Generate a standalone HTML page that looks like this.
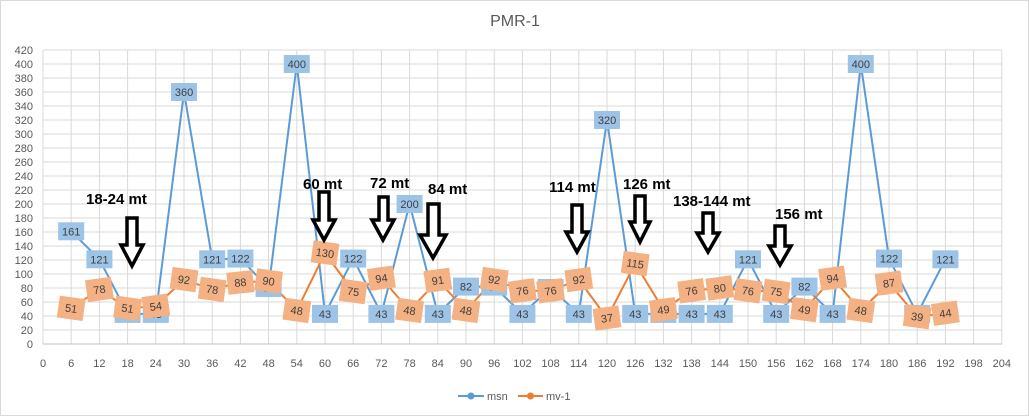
<!DOCTYPE html>
<html><head><meta charset="utf-8"><style>
html,body{margin:0;padding:0;background:#fff;}
svg{display:block;font-family:"Liberation Sans",sans-serif;}
.g line{stroke:#d9d9d9;stroke-width:1}
.yl{font-size:11px;fill:#595959;text-anchor:end}
.xl{font-size:11px;fill:#595959;text-anchor:middle}
.bl rect{fill:#9dc3e6}
.bl text,.ol text{font-size:11px;fill:#404040;text-anchor:middle}
.ol rect{fill:#f4b183}
.ar{fill:#fff;stroke:#000;stroke-width:3.5}
.an{font-size:15px;font-weight:bold;fill:#000}
</style></head><body>
<svg width="1029" height="416" viewBox="0 0 1029 416">
<rect x="0.5" y="0.5" width="1028" height="415" fill="#fff" stroke="#d9d9d9"/>
<text x="515" y="26" font-size="16" fill="#595959" text-anchor="middle">PMR-1</text>
<g class="g">
<line x1="43" y1="50" x2="1002" y2="50"/><line x1="43" y1="64" x2="1002" y2="64"/><line x1="43" y1="78" x2="1002" y2="78"/><line x1="43" y1="92" x2="1002" y2="92"/><line x1="43" y1="106" x2="1002" y2="106"/><line x1="43" y1="120" x2="1002" y2="120"/><line x1="43" y1="134" x2="1002" y2="134"/><line x1="43" y1="148" x2="1002" y2="148"/><line x1="43" y1="162" x2="1002" y2="162"/><line x1="43" y1="176" x2="1002" y2="176"/><line x1="43" y1="190" x2="1002" y2="190"/><line x1="43" y1="204" x2="1002" y2="204"/><line x1="43" y1="218" x2="1002" y2="218"/><line x1="43" y1="232" x2="1002" y2="232"/><line x1="43" y1="246" x2="1002" y2="246"/><line x1="43" y1="260" x2="1002" y2="260"/><line x1="43" y1="274" x2="1002" y2="274"/><line x1="43" y1="288" x2="1002" y2="288"/><line x1="43" y1="302" x2="1002" y2="302"/><line x1="43" y1="316" x2="1002" y2="316"/><line x1="43" y1="330" x2="1002" y2="330"/>
<line x1="43" y1="50" x2="43" y2="344"/><line x1="71.2" y1="50" x2="71.2" y2="344"/><line x1="99.4" y1="50" x2="99.4" y2="344"/><line x1="127.6" y1="50" x2="127.6" y2="344"/><line x1="155.8" y1="50" x2="155.8" y2="344"/><line x1="184" y1="50" x2="184" y2="344"/><line x1="212.2" y1="50" x2="212.2" y2="344"/><line x1="240.4" y1="50" x2="240.4" y2="344"/><line x1="268.6" y1="50" x2="268.6" y2="344"/><line x1="296.8" y1="50" x2="296.8" y2="344"/><line x1="325" y1="50" x2="325" y2="344"/><line x1="353.2" y1="50" x2="353.2" y2="344"/><line x1="381.4" y1="50" x2="381.4" y2="344"/><line x1="409.6" y1="50" x2="409.6" y2="344"/><line x1="437.8" y1="50" x2="437.8" y2="344"/><line x1="466" y1="50" x2="466" y2="344"/><line x1="494.2" y1="50" x2="494.2" y2="344"/><line x1="522.4" y1="50" x2="522.4" y2="344"/><line x1="550.6" y1="50" x2="550.6" y2="344"/><line x1="578.8" y1="50" x2="578.8" y2="344"/><line x1="607" y1="50" x2="607" y2="344"/><line x1="635.2" y1="50" x2="635.2" y2="344"/><line x1="663.4" y1="50" x2="663.4" y2="344"/><line x1="691.6" y1="50" x2="691.6" y2="344"/><line x1="719.8" y1="50" x2="719.8" y2="344"/><line x1="748" y1="50" x2="748" y2="344"/><line x1="776.2" y1="50" x2="776.2" y2="344"/><line x1="804.4" y1="50" x2="804.4" y2="344"/><line x1="832.6" y1="50" x2="832.6" y2="344"/><line x1="860.8" y1="50" x2="860.8" y2="344"/><line x1="889" y1="50" x2="889" y2="344"/><line x1="917.2" y1="50" x2="917.2" y2="344"/><line x1="945.4" y1="50" x2="945.4" y2="344"/><line x1="973.6" y1="50" x2="973.6" y2="344"/><line x1="1001.8" y1="50" x2="1001.8" y2="344"/>
</g>
<line x1="43" y1="344" x2="1002" y2="344" stroke="#bfbfbf"/>
<g class="yl">
<text x="33" y="54">420</text><text x="33" y="68">400</text><text x="33" y="82">380</text><text x="33" y="96">360</text><text x="33" y="110">340</text><text x="33" y="124">320</text><text x="33" y="138">300</text><text x="33" y="152">280</text><text x="33" y="166">260</text><text x="33" y="180">240</text><text x="33" y="194">220</text><text x="33" y="208">200</text><text x="33" y="222">180</text><text x="33" y="236">160</text><text x="33" y="250">140</text><text x="33" y="264">120</text><text x="33" y="278">100</text><text x="33" y="292">80</text><text x="33" y="306">60</text><text x="33" y="320">40</text><text x="33" y="334">20</text><text x="33" y="348">0</text>
</g>
<g class="xl">
<text x="43" y="367">0</text><text x="71.2" y="367">6</text><text x="99.4" y="367">12</text><text x="127.6" y="367">18</text><text x="155.8" y="367">24</text><text x="184" y="367">30</text><text x="212.2" y="367">36</text><text x="240.4" y="367">42</text><text x="268.6" y="367">48</text><text x="296.8" y="367">54</text><text x="325" y="367">60</text><text x="353.2" y="367">66</text><text x="381.4" y="367">72</text><text x="409.6" y="367">78</text><text x="437.8" y="367">84</text><text x="466" y="367">90</text><text x="494.2" y="367">96</text><text x="522.4" y="367">102</text><text x="550.6" y="367">108</text><text x="578.8" y="367">114</text><text x="607" y="367">120</text><text x="635.2" y="367">126</text><text x="663.4" y="367">132</text><text x="691.6" y="367">138</text><text x="719.8" y="367">144</text><text x="748" y="367">150</text><text x="776.2" y="367">156</text><text x="804.4" y="367">162</text><text x="832.6" y="367">168</text><text x="860.8" y="367">174</text><text x="889" y="367">180</text><text x="917.2" y="367">186</text><text x="945.4" y="367">192</text><text x="973.6" y="367">198</text><text x="1001.8" y="367">204</text>
</g>
<polyline fill="none" stroke="#5b9bd5" stroke-width="2" points="71.2,231.3 99.4,259.3 127.6,313.9 155.8,313.9 184,92 212.2,259.3 240.4,258.6 268.6,288 296.8,64 325,313.9 353.2,258.6 381.4,313.9 409.6,204 437.8,313.9 466,286.6 494.2,286.6 522.4,313.9 550.6,288 578.8,313.9 607,120 635.2,313.9 663.4,313.9 691.6,313.9 719.8,313.9 748,259.3 776.2,313.9 804.4,286.6 832.6,313.9 860.8,64 889,258.6 917.2,313.9 945.4,259.3"/>
<polyline fill="none" stroke="#ed7d31" stroke-width="2" points="71.2,308.3 99.4,289.4 127.6,308.3 155.8,306.2 184,279.6 212.2,289.4 240.4,282.4 268.6,281 296.8,310.4 325,253 353.2,291.5 381.4,278.2 409.6,310.4 437.8,280.3 466,310.4 494.2,279.6 522.4,290.8 550.6,290.8 578.8,279.6 607,318.1 635.2,263.5 663.4,309.7 691.6,290.8 719.8,288 748,290.8 776.2,291.5 804.4,309.7 832.6,278.2 860.8,310.4 889,283.1 917.2,316.7 945.4,313.2"/>
<g class="bl">
<g transform="translate(71.2,231.3)"><rect x="-13" y="-9" width="26" height="18"/><text y="4">161</text></g>
<g transform="translate(99.4,259.3)"><rect x="-13" y="-9" width="26" height="18"/><text y="4">121</text></g>
<g transform="translate(127.6,313.9)"><rect x="-13" y="-9" width="26" height="18"/><text y="4">43</text></g>
<g transform="translate(155.8,313.9)"><rect x="-13" y="-9" width="26" height="18"/><text y="4">43</text></g>
<g transform="translate(184,92)"><rect x="-13" y="-9" width="26" height="18"/><text y="4">360</text></g>
<g transform="translate(212.2,259.3)"><rect x="-13" y="-9" width="26" height="18"/><text y="4">121</text></g>
<g transform="translate(240.4,258.6)"><rect x="-13" y="-9" width="26" height="18"/><text y="4">122</text></g>
<g transform="translate(268.6,288)"><rect x="-13" y="-9" width="26" height="18"/><text y="4">80</text></g>
<g transform="translate(296.8,64)"><rect x="-13" y="-9" width="26" height="18"/><text y="4">400</text></g>
<g transform="translate(325,313.9)"><rect x="-13" y="-9" width="26" height="18"/><text y="4">43</text></g>
<g transform="translate(353.2,258.6)"><rect x="-13" y="-9" width="26" height="18"/><text y="4">122</text></g>
<g transform="translate(381.4,313.9)"><rect x="-13" y="-9" width="26" height="18"/><text y="4">43</text></g>
<g transform="translate(409.6,204)"><rect x="-13" y="-9" width="26" height="18"/><text y="4">200</text></g>
<g transform="translate(437.8,313.9)"><rect x="-13" y="-9" width="26" height="18"/><text y="4">43</text></g>
<g transform="translate(466,286.6)"><rect x="-13" y="-9" width="26" height="18"/><text y="4">82</text></g>
<g transform="translate(494.2,286.6)"><rect x="-13" y="-9" width="26" height="18"/><text y="4">82</text></g>
<g transform="translate(522.4,313.9)"><rect x="-13" y="-9" width="26" height="18"/><text y="4">43</text></g>
<g transform="translate(550.6,288)"><rect x="-13" y="-9" width="26" height="18"/><text y="4">80</text></g>
<g transform="translate(578.8,313.9)"><rect x="-13" y="-9" width="26" height="18"/><text y="4">43</text></g>
<g transform="translate(607,120)"><rect x="-13" y="-9" width="26" height="18"/><text y="4">320</text></g>
<g transform="translate(635.2,313.9)"><rect x="-13" y="-9" width="26" height="18"/><text y="4">43</text></g>
<g transform="translate(663.4,313.9)"><rect x="-13" y="-9" width="26" height="18"/><text y="4">43</text></g>
<g transform="translate(691.6,313.9)"><rect x="-13" y="-9" width="26" height="18"/><text y="4">43</text></g>
<g transform="translate(719.8,313.9)"><rect x="-13" y="-9" width="26" height="18"/><text y="4">43</text></g>
<g transform="translate(748,259.3)"><rect x="-13" y="-9" width="26" height="18"/><text y="4">121</text></g>
<g transform="translate(776.2,313.9)"><rect x="-13" y="-9" width="26" height="18"/><text y="4">43</text></g>
<g transform="translate(804.4,286.6)"><rect x="-13" y="-9" width="26" height="18"/><text y="4">82</text></g>
<g transform="translate(832.6,313.9)"><rect x="-13" y="-9" width="26" height="18"/><text y="4">43</text></g>
<g transform="translate(860.8,64)"><rect x="-13" y="-9" width="26" height="18"/><text y="4">400</text></g>
<g transform="translate(889,258.6)"><rect x="-13" y="-9" width="26" height="18"/><text y="4">122</text></g>
<g transform="translate(917.2,313.9)"><rect x="-13" y="-9" width="26" height="18"/><text y="4">43</text></g>
<g transform="translate(945.4,259.3)"><rect x="-13" y="-9" width="26" height="18"/><text y="4">121</text></g>
</g>
<g class="ol">
<g transform="translate(71.2,308.3) rotate(8)"><rect x="-13" y="-11" width="26" height="22"/><text y="4">51</text></g>
<g transform="translate(99.4,289.4) rotate(-8)"><rect x="-13" y="-11" width="26" height="22"/><text y="4">78</text></g>
<g transform="translate(127.6,308.3) rotate(8)"><rect x="-13" y="-11" width="26" height="22"/><text y="4">51</text></g>
<g transform="translate(155.8,306.2) rotate(-8)"><rect x="-13" y="-11" width="26" height="22"/><text y="4">54</text></g>
<g transform="translate(184,279.6) rotate(8)"><rect x="-13" y="-11" width="26" height="22"/><text y="4">92</text></g>
<g transform="translate(212.2,289.4) rotate(8)"><rect x="-13" y="-11" width="26" height="22"/><text y="4">78</text></g>
<g transform="translate(240.4,282.4) rotate(-6)"><rect x="-13" y="-11" width="26" height="22"/><text y="4">88</text></g>
<g transform="translate(268.6,281) rotate(8)"><rect x="-13" y="-11" width="26" height="22"/><text y="4">90</text></g>
<g transform="translate(296.8,310.4) rotate(8)"><rect x="-13" y="-11" width="26" height="22"/><text y="4">48</text></g>
<g transform="translate(325,253) rotate(8)"><rect x="-13" y="-11" width="26" height="22"/><text y="4">130</text></g>
<g transform="translate(353.2,291.5) rotate(8)"><rect x="-13" y="-11" width="26" height="22"/><text y="4">75</text></g>
<g transform="translate(381.4,278.2) rotate(-8)"><rect x="-13" y="-11" width="26" height="22"/><text y="4">94</text></g>
<g transform="translate(409.6,310.4) rotate(8)"><rect x="-13" y="-11" width="26" height="22"/><text y="4">48</text></g>
<g transform="translate(437.8,280.3) rotate(-8)"><rect x="-13" y="-11" width="26" height="22"/><text y="4">91</text></g>
<g transform="translate(466,310.4) rotate(8)"><rect x="-13" y="-11" width="26" height="22"/><text y="4">48</text></g>
<g transform="translate(494.2,279.6) rotate(8)"><rect x="-13" y="-11" width="26" height="22"/><text y="4">92</text></g>
<g transform="translate(522.4,290.8) rotate(-8)"><rect x="-13" y="-11" width="26" height="22"/><text y="4">76</text></g>
<g transform="translate(550.6,290.8) rotate(-8)"><rect x="-13" y="-11" width="26" height="22"/><text y="4">76</text></g>
<g transform="translate(578.8,279.6) rotate(-8)"><rect x="-13" y="-11" width="26" height="22"/><text y="4">92</text></g>
<g transform="translate(607,318.1) rotate(-8)"><rect x="-13" y="-11" width="26" height="22"/><text y="4">37</text></g>
<g transform="translate(635.2,263.5) rotate(8)"><rect x="-13" y="-11" width="26" height="22"/><text y="4">115</text></g>
<g transform="translate(663.4,309.7) rotate(-8)"><rect x="-13" y="-11" width="26" height="22"/><text y="4">49</text></g>
<g transform="translate(691.6,290.8) rotate(-8)"><rect x="-13" y="-11" width="26" height="22"/><text y="4">76</text></g>
<g transform="translate(719.8,288) rotate(-8)"><rect x="-13" y="-11" width="26" height="22"/><text y="4">80</text></g>
<g transform="translate(748,290.8) rotate(8)"><rect x="-13" y="-11" width="26" height="22"/><text y="4">76</text></g>
<g transform="translate(776.2,291.5) rotate(8)"><rect x="-13" y="-11" width="26" height="22"/><text y="4">75</text></g>
<g transform="translate(804.4,309.7) rotate(8)"><rect x="-13" y="-11" width="26" height="22"/><text y="4">49</text></g>
<g transform="translate(832.6,278.2) rotate(-8)"><rect x="-13" y="-11" width="26" height="22"/><text y="4">94</text></g>
<g transform="translate(860.8,310.4) rotate(8)"><rect x="-13" y="-11" width="26" height="22"/><text y="4">48</text></g>
<g transform="translate(889,283.1) rotate(-8)"><rect x="-13" y="-11" width="26" height="22"/><text y="4">87</text></g>
<g transform="translate(917.2,316.7) rotate(8)"><rect x="-13" y="-11" width="26" height="22"/><text y="4">39</text></g>
<g transform="translate(945.4,313.2) rotate(-8)"><rect x="-13" y="-11" width="26" height="22"/><text y="4">44</text></g>
</g>
<g class="ar">
<path d="M127,218 H137 V245 H143 L132,266 L121,245 H127 Z"/>
<path d="M319,192 H329 V220 H335 L324,240 L313,220 H319 Z"/>
<path d="M379,197 H388 V220 H394 L383,240 L372,220 H379 Z"/>
<path d="M428,204 H439 V235 H446 L433,258 L420,235 H428 Z"/>
<path d="M572,205 H582 V232 H588 L577,252 L566,232 H572 Z"/>
<path d="M635,196 H645 V222 H650 L640,242 L630,222 H635 Z"/>
<path d="M703,213 H713 V233 H719 L708,252 L697,233 H703 Z"/>
<path d="M775,226 H785 V246 H791 L780,265 L769,246 H775 Z"/>
</g>
<g class="an">
<text x="86" y="204">18-24 mt</text>
<text x="303" y="189">60 mt</text>
<text x="370" y="188">72 mt</text>
<text x="428" y="194">84 mt</text>
<text x="549" y="192">114 mt</text>
<text x="623" y="189">126 mt</text>
<text x="673" y="206">138-144 mt</text>
<text x="775" y="219">156 mt</text>
</g>
<line x1="458" y1="396" x2="484" y2="396" stroke="#5b9bd5" stroke-width="2"/><circle cx="471" cy="396" r="3.5" fill="#5b9bd5"/>
<text x="487" y="400" font-size="11" fill="#595959">msn</text>
<line x1="518" y1="396" x2="543" y2="396" stroke="#ed7d31" stroke-width="2"/><circle cx="530.5" cy="396" r="3.5" fill="#ed7d31"/>
<text x="546" y="400" font-size="11" fill="#595959">mv-1</text>
</svg>
</body></html>
